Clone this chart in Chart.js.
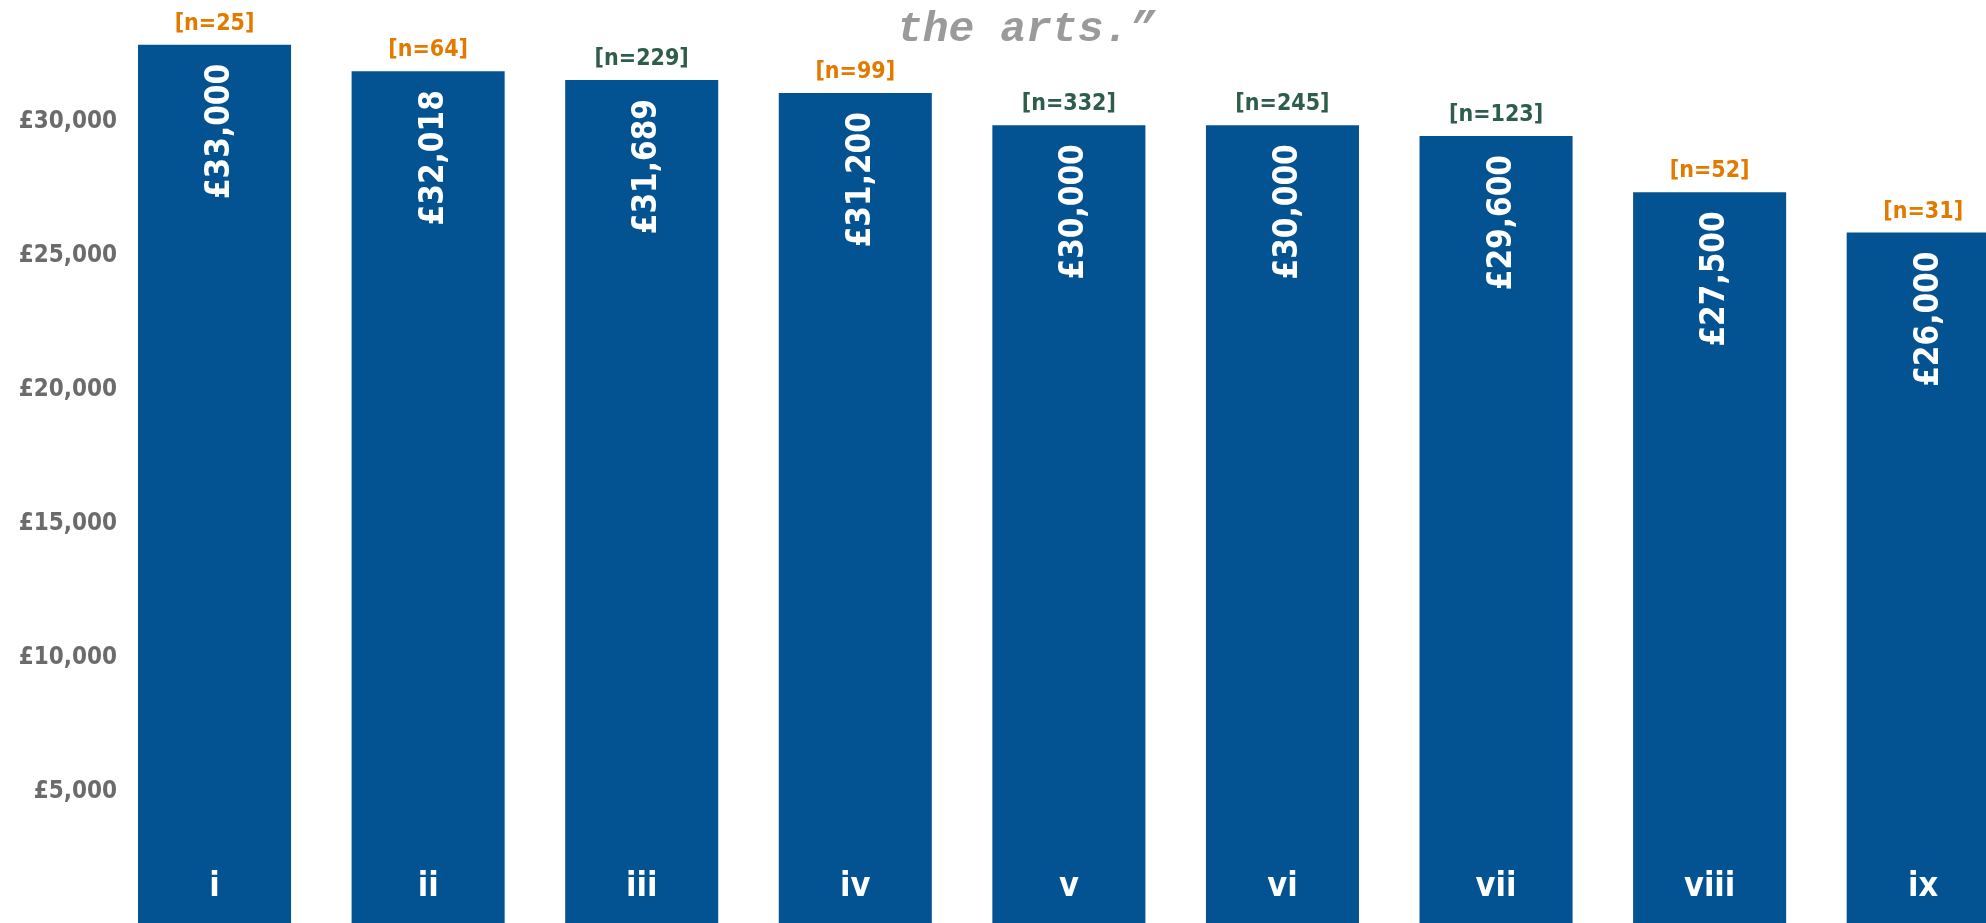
<!DOCTYPE html>
<html>
<head>
<meta charset="utf-8">
<script src="https://cdn.jsdelivr.net/npm/chart.js@4.4.1/dist/chart.umd.min.js"></script>
<style>
  html, body { margin: 0; padding: 0; background: #fff; overflow: hidden; }
  #wrap { position: relative; width: 1986px; height: 923px; overflow: hidden; }
  #chart { position: absolute; left: 0; top: 0; }
  #quote {
    position: absolute; left: 897px; top: 8px;
    font: italic bold 43px/43px "Liberation Mono", monospace;
    color: #9a9a9a; white-space: nowrap;
  }
</style>
</head>
<body>
<div id="wrap">
  <canvas id="chart" width="2030" height="930"></canvas>
  <div id="quote">the arts.”</div>
</div>
<script>
const categories = ["i", "ii", "iii", "iv", "v", "vi", "vii", "viii", "ix"];
const salaries = [33000, 32018, 31689, 31200, 30000, 30000, 29600, 27500, 26000];
const sampleSizes = [25, 64, 229, 99, 332, 245, 123, 52, 31];
const yTickValues = [5000, 10000, 15000, 20000, 25000, 30000];

const FONT = '"DejaVu Sans Condensed", "DejaVu Sans", sans-serif';
const BLUE = "#035393";
const ORANGE = "#e27a00";
const GREEN = "#2e5e4b";
const TICK_FONT = { family: FONT, size: 24, weight: "bold" };

const fmt = (v) => "£" + v.toLocaleString("en-GB");

const canvas = document.getElementById("chart");
const ctx = canvas.getContext("2d");

// y labels sit over the bar gap, right edge at x=117 (axis box ends at 107.75)
const AXIS_W = 107.75;
const LABEL_RIGHT = 117;
ctx.font = "bold 24px " + FONT;
const widest = Math.max(...yTickValues.map((v) => ctx.measureText(fmt(v)).width));

// value, sample size and category labels drawn on each bar
const barLabels = {
  id: "barLabels",
  afterDatasetsDraw(chart) {
    const c = chart.ctx;
    const meta = chart.getDatasetMeta(0);
    const yZero = chart.scales.y.getPixelForValue(0);
    c.save();
    meta.data.forEach((bar, i) => {
      // [n=..] above the bar
      c.font = "bold 23px " + FONT;
      c.fillStyle = sampleSizes[i] >= 100 ? GREEN : ORANGE;
      c.textAlign = "center";
      c.textBaseline = "alphabetic";
      c.fillText("[n=" + sampleSizes[i] + "]", bar.x, bar.y - 15);

      // salary, rotated, inside the top of the bar
      c.save();
      c.translate(bar.x + 6, bar.y + 19);
      c.rotate(-Math.PI / 2);
      c.font = "bold 33px " + FONT;
      c.fillStyle = "#fff";
      c.textAlign = "right";
      c.textBaseline = "middle";
      c.fillText(fmt(salaries[i]), 0, 0);
      c.restore();

      // category at the foot of the bar
      c.font = "bold 34px " + FONT;
      c.fillStyle = "#fff";
      c.textAlign = "center";
      c.textBaseline = "alphabetic";
      c.fillText(categories[i], bar.x, yZero - 34);
    });
    c.restore();
  },
};

new Chart(ctx, {
  type: "bar",
  data: {
    labels: categories,
    datasets: [
      {
        data: salaries,
        backgroundColor: BLUE,
        borderWidth: 0,
        barPercentage: 0.7166,
        categoryPercentage: 1,
      },
    ],
  },
  options: {
    responsive: false,
    animation: false,
    layout: { padding: { top: 18, left: 0, right: 0, bottom: 0 } },
    plugins: {
      legend: { display: false },
      tooltip: { enabled: false },
    },
    scales: {
      x: { display: false, offset: true },
      y: {
        min: 0,
        max: 34000,
        grid: { display: false, drawTicks: false },
        border: { display: false },
        ticks: {
          mirror: true,
          crossAlign: "far",
          padding: LABEL_RIGHT - AXIS_W - widest,
          labelOffset: -4,
          color: "#6b6b6b",
          font: TICK_FONT,
          callback: (v) => fmt(v),
        },
        afterBuildTicks: (scale) => {
          scale.ticks = yTickValues.map((v) => ({ value: v }));
        },
        afterFit: (scale) => {
          scale.width = AXIS_W;
        },
      },
    },
  },
  plugins: [barLabels],
});
</script>
</body>
</html>
